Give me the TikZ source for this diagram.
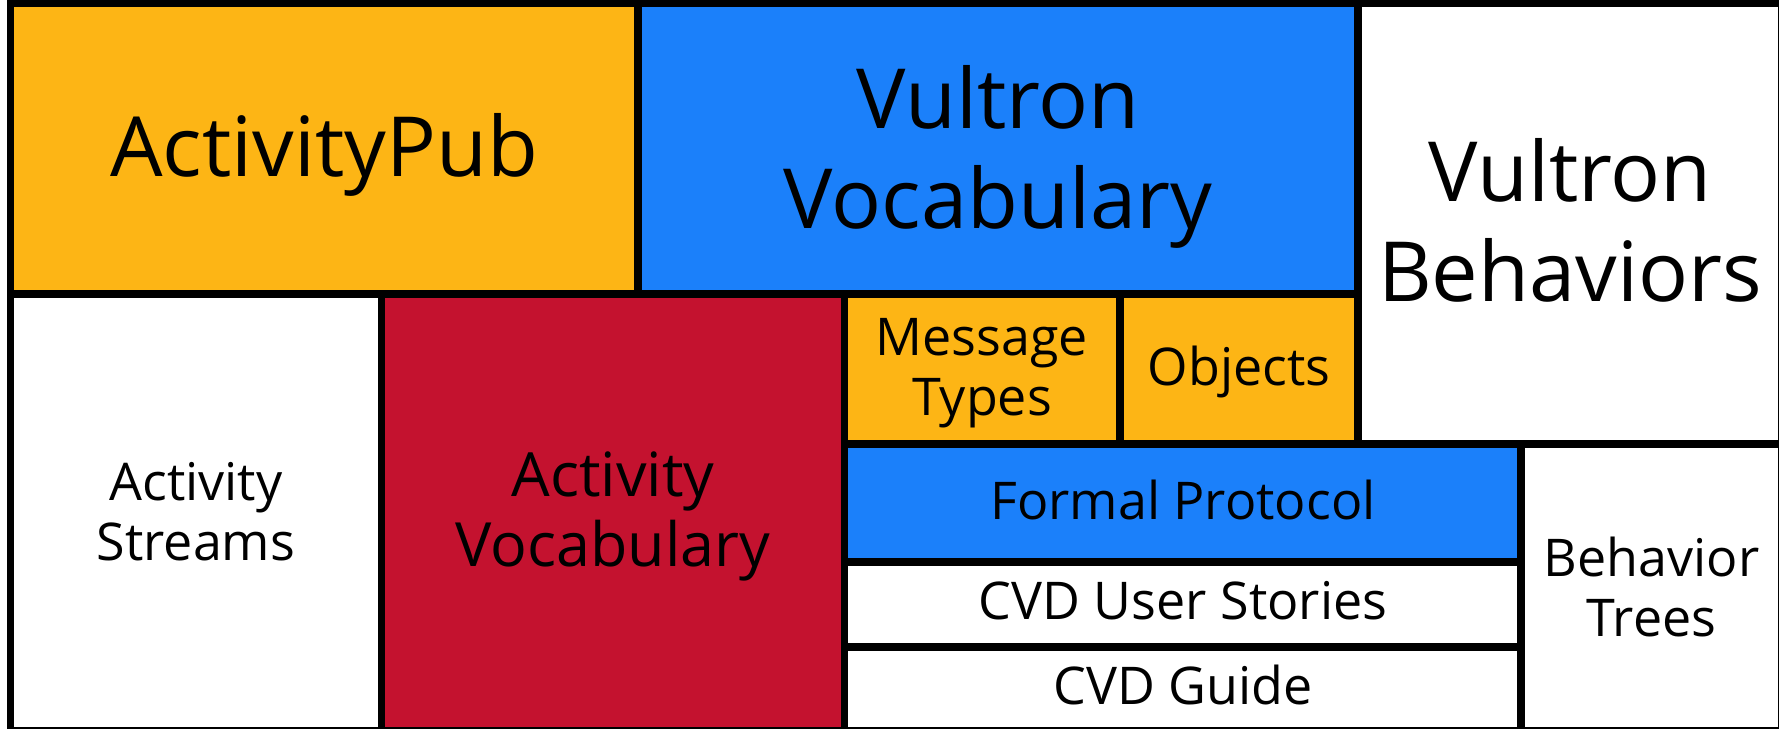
\documentclass[tikz,border=0pt]{standalone}
\usepackage{fontspec}
\setmainfont{Open Sans}
\definecolor{cOrange}{RGB}{253,181,21}
\definecolor{cBlue}{RGB}{27,128,250}
\definecolor{cRed}{RGB}{196,18,47}
\begin{document}
\begin{tikzpicture}[x=1pt,y=-1pt,
  box/.style={draw=black, line width=7.5pt},
  big/.style={font=\fontsize{83}{100}\selectfont, align=center, inner sep=0pt, outer sep=0pt},
  mid/.style={font=\fontsize{61}{70}\selectfont, align=center, inner sep=0pt, outer sep=0pt},
  small/.style={font=\fontsize{52}{60}\selectfont, align=center, inner sep=0pt, outer sep=0pt}]
\useasboundingbox (0,0) rectangle (1779,728);
\fill[white] (0,0) rectangle (1779,728);
% boxes
\path[box, fill=cOrange] (10.5,3.5) rectangle (638,294);
\path[box, fill=cBlue] (638,3.5) rectangle (1358,294);
\path[box, fill=white] (1358,3.5) rectangle (1782,444);
\path[box, fill=white] (10.5,294) rectangle (381.5,731);
\path[box, fill=cRed] (381.5,294) rectangle (844.5,731);
\path[box, fill=cOrange] (844.5,294) rectangle (1120,444);
\path[box, fill=cOrange] (1120,294) rectangle (1358,444);
\path[box, fill=cBlue] (844.5,444) rectangle (1521,562);
\path[box, fill=white] (844.5,562) rectangle (1521,647);
\path[box, fill=white] (844.5,647) rectangle (1521,731);
\path[box, fill=white] (1521,444) rectangle (1782,731);
% labels
\node[big] (ap) at (324,155.4) {ActivityPub};
\node[big] (vv) at (998,156.8) {Vultron\\Vocabulary};
\node[big] (vb) at (1570,220.2) {Vultron\\Behaviors};
\node[mid] (av) at (613,516) {Activity\\Vocabulary};
\node[small] (as) at (196,511.3) {Activity\\Streams};
\node[small] (mt) at (982,372.7) {Message\\Types};
\node[small] (ob) at (1239,371.5) {Objects};
\node[small] (fp) at (1183,500.3) {Formal Protocol};
\node[small] (us) at (1183,600.3) {CVD User Stories};
\node[small] (cg) at (1183,685.3) {CVD Guide};
\node[small] (bt) at (1651.5,586.8) {Behavior\\Trees};
\end{tikzpicture}
\end{document}
